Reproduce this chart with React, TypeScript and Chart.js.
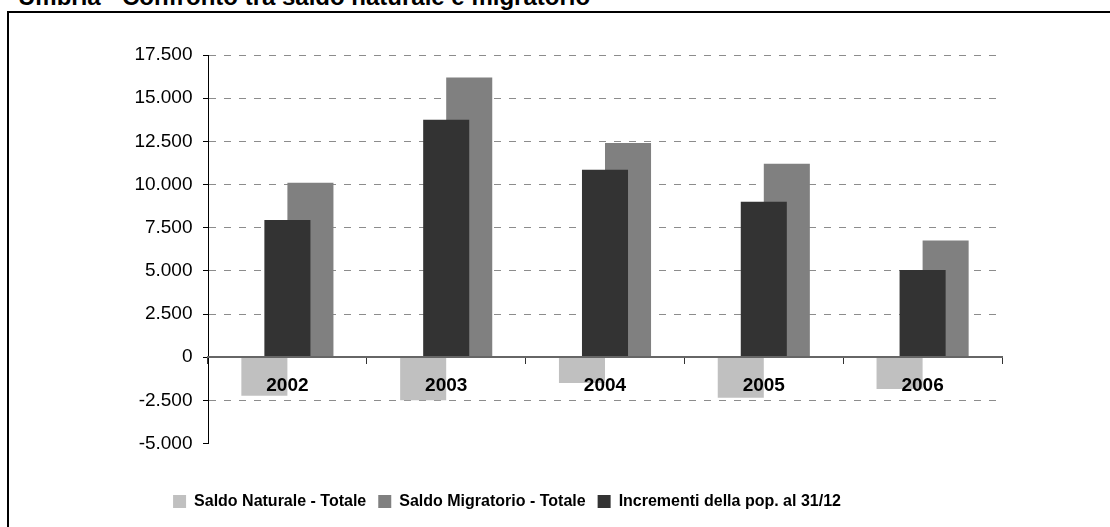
import React, { useEffect, useRef } from 'react';
import { Chart, registerables } from 'chart.js';

Chart.register(...registerables);

const chartTitle = 'Umbria - Confronto tra saldo naturale e migratorio';
const years = ['2002', '2003', '2004', '2005', '2006'];
const seriesLabels = [
  'Saldo Naturale - Totale',
  'Saldo Migratorio - Totale',
  'Incrementi della pop. al 31/12',
];
const saldoNaturale = [-2240, -2500, -1500, -2350, -1850];
const saldoMigratorio = [10100, 16200, 12400, 11200, 6750];
const incrementi = [7950, 13750, 10850, 9000, 5050];
const yMin = -5000;
const yMax = 17500;
const yStep = 2500;

const FONT = "'Liberation Sans', Arial, Helvetica, sans-serif";

const fmt = (v: number) => {
  const s = String(Math.abs(Math.round(v))).replace(/\B(?=(\d{3})+(?!\d))/g, '.');
  return (v < 0 ? '-' : '') + s;
};

export default function App() {
  const ref = useRef<HTMLCanvasElement>(null);

  useEffect(() => {
    const shift = 0.145;
    const mk = (vals: number[], d: number) => vals.map((v, i) => ({ x: i + d, y: v }));
    const common = {
      xAxisID: 'xb',
      yAxisID: 'y',
      grouped: false,
      categoryPercentage: 1,
      barPercentage: 2,
      borderWidth: 0,
    };
    const chart = new Chart(ref.current as HTMLCanvasElement, {
      type: 'bar',
      data: {
        labels: years,
        datasets: [
          { ...common, label: seriesLabels[0], data: mk(saldoNaturale, -shift), backgroundColor: '#C0C0C0', order: 0 },
          { ...common, label: seriesLabels[1], data: mk(saldoMigratorio, shift), backgroundColor: '#808080', order: 2 },
          { ...common, label: seriesLabels[2], data: mk(incrementi, 0), backgroundColor: '#333333', order: 1 },
        ] as any,
      },
      options: {
        animation: false,
        responsive: false,
        devicePixelRatio: 1,
        layout: { padding: { left: 12, right: 108, top: 55, bottom: 7.5 } },
        plugins: {
          tooltip: { enabled: false },
          title: { display: false },
          legend: {
            position: 'bottom',
            labels: {
              boxWidth: 13,
              boxHeight: 13,
              padding: 12,
              color: '#000',
              font: { family: FONT, size: 16, weight: 'bold' },
              sort: (a: any, b: any) => a.datasetIndex - b.datasetIndex,
            },
          },
        },
        scales: {
          y: {
            type: 'linear',
            position: 'left',
            min: yMin,
            max: yMax,
            afterFit: (s: any) => {
              s.width = 196;
            },
            ticks: {
              stepSize: yStep,
              color: '#000',
              padding: 10.5,
              font: { family: FONT, size: 19 },
              callback: (v: any) => fmt(Number(v)),
            },
            grid: {
              color: (ctx: any) => (ctx.tick && ctx.tick.value === yMin ? 'rgba(0,0,0,0)' : '#8c8c8c'),
              lineWidth: 1,
              tickColor: '#000',
              tickLength: 5,
              tickWidth: 1,
              tickBorderDash: [],
            },
            border: { display: true, color: '#000', width: 1, dash: [7, 8] },
          },
          xb: {
            type: 'linear',
            position: 'bottom',
            min: -0.5,
            max: 4.5,
            offset: false,
            grid: { display: false, offset: false },
            border: { display: false },
            ticks: { display: false, stepSize: 1 },
            afterFit: (s: any) => {
              s.height = 38;
            },
          },
          x: {
            type: 'category',
            position: { y: 0 },
            offset: true,
            grid: {
              offset: true,
              drawOnChartArea: false,
              drawTicks: true,
              tickLength: 6,
              tickColor: '#333',
              tickWidth: 1,
              z: 1,
            },
            border: { display: true, color: '#666', width: 2, z: 1 },
            ticks: {
              color: '#000',
              padding: 11.5,
              maxRotation: 0,
              autoSkip: false,
              z: 2,
              font: { family: FONT, size: 19, weight: 'bold' },
            },
          },
        } as any,
      },
    });
    return () => chart.destroy();
  }, []);

  return (
    <div
      style={{
        position: 'fixed',
        left: 0,
        top: 0,
        width: 1110,
        height: 527,
        overflow: 'hidden',
        background: '#fff',
      }}
    >
      <div
        style={{
          position: 'absolute',
          left: 18,
          top: -15,
          fontFamily: FONT,
          fontWeight: 'bold',
          fontSize: 24,
          lineHeight: '24px',
          whiteSpace: 'nowrap',
          color: '#000',
        }}
      >
        {chartTitle}
      </div>
      <div
        style={{
          position: 'absolute',
          left: 7,
          top: 11,
          width: 1200,
          height: 600,
          border: '2px solid #000',
        }}
      />
      <canvas
        ref={ref}
        width={1110}
        height={527}
        style={{ position: 'absolute', left: 0, top: 0, width: 1110, height: 527 }}
      />
    </div>
  );
}
